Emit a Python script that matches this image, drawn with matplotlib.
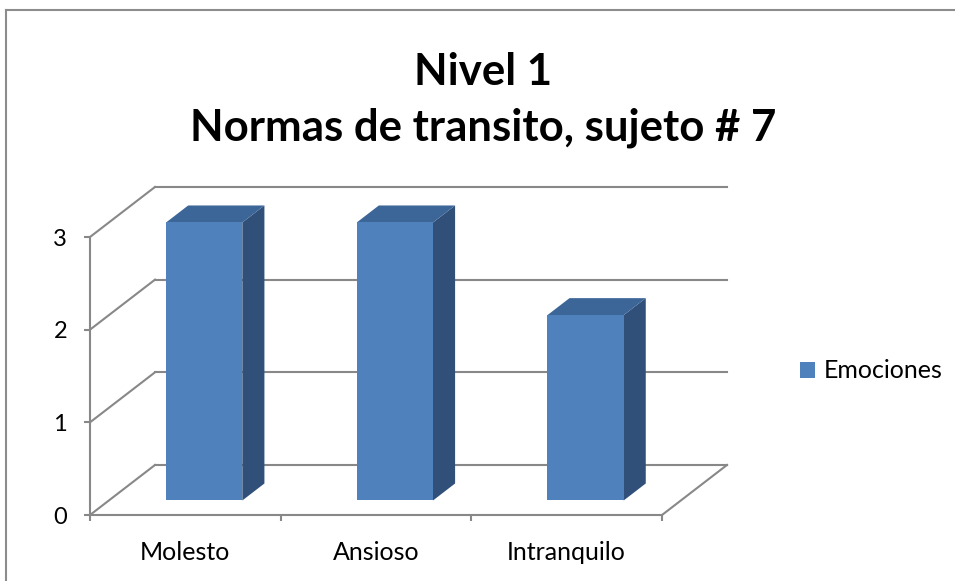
import matplotlib
matplotlib.use('Agg')
import matplotlib.pyplot as plt
from matplotlib.patches import Polygon, Rectangle, Patch
from matplotlib.lines import Line2D

categories = ['Molesto', 'Ansioso', 'Intranquilo']
values = [3, 3, 2]
series_name = 'Emociones'
yticks = [0, 1, 2, 3]
title = 'Nivel 1\nNormas de transito, sujeto # 7'

W, H = 955, 581
FONT = 'Lato'
front_col = '#4F81BD'
top_col = '#3C6698'
side_col = '#30507A'
grid_col = '#888888'

fig = plt.figure(figsize=(W / 100, H / 100), dpi=100)
ax = fig.add_axes([90 / W, (H - 515) / H, 572 / W, 278 / H])
n = len(categories)
ax.set_xlim(0, n)
ax.set_ylim(0, max(yticks))

ddx, ddy = 0.341, 0.54      # depth of the 3D box in data units
f0, fd = 0.29, 0.34         # bar front position / bar depth as fraction
bw = 0.40                   # bar width

# walls / gridlines
for v in yticks:
    ax.add_line(Line2D([ddx, n + ddx], [v + ddy, v + ddy], color=grid_col, lw=1.5, clip_on=False, zorder=1))
    ax.add_line(Line2D([0, ddx], [v, v + ddy], color=grid_col, lw=1.5, clip_on=False, zorder=1))
ax.add_line(Line2D([n, n + ddx], [0, ddy], color=grid_col, lw=1.5, clip_on=False, zorder=1))

# bars
for i, v in enumerate(values):
    x0 = i + 0.5 - bw / 2 + f0 * ddx
    y0 = f0 * ddy
    ex, ey = fd * ddx, fd * ddy
    ax.add_patch(Polygon([(x0 + bw, y0), (x0 + bw + ex, y0 + ey), (x0 + bw + ex, y0 + v + ey), (x0 + bw, y0 + v)],
                         closed=True, facecolor=side_col, edgecolor='none', clip_on=False, zorder=3))
    ax.add_patch(Polygon([(x0, y0 + v), (x0 + bw, y0 + v), (x0 + bw + ex, y0 + v + ey), (x0 + ex, y0 + v + ey)],
                         closed=True, facecolor=top_col, edgecolor='none', clip_on=False, zorder=3))
    ax.add_patch(Rectangle((x0, y0), bw, v, facecolor=front_col, edgecolor='none', clip_on=False, zorder=4))

# axes
for s in ['top', 'right']:
    ax.spines[s].set_visible(False)
for s in ['left', 'bottom']:
    ax.spines[s].set_color(grid_col)
    ax.spines[s].set_linewidth(1.5)
    ax.spines[s].set_zorder(2)
ax.set_facecolor('none')
ax.set_yticks(yticks)
ax.set_yticklabels([str(t) for t in yticks], fontsize=17, family=FONT)
ax.tick_params(axis='y', direction='out', length=4.5, width=1.5, color=grid_col, pad=12)
ax.set_xticks(range(n + 1))
ax.set_xticklabels([])
ax.tick_params(axis='x', which='major', direction='out', length=4.5, width=1.5, color=grid_col)
ax.set_xticks([i + 0.5 for i in range(n)], minor=True)
ax.set_xticklabels(categories, minor=True, fontsize=18, family=FONT)
ax.tick_params(axis='x', which='minor', length=0, pad=19)

# title
fig.text(483 / W, 1 - 100 / H, title, ha='center', va='center', fontsize=31.5,
         fontweight='bold', family=FONT, linespacing=1.45)

# legend
fig.legend(handles=[Patch(facecolor=front_col, edgecolor='none', label=series_name)],
           loc='center left', bbox_to_anchor=(800 / W, 1 - 371 / H), frameon=False,
           prop={'family': FONT, 'size': 18}, handlelength=0.6, handleheight=0.6,
           handletextpad=0.35, borderpad=0, borderaxespad=0)

# chart border
fig.add_artist(Line2D([6 / W, 6 / W], [0, 1 - 10 / H], color='#8c8c8c', lw=1.5, transform=fig.transFigure))
fig.add_artist(Line2D([6 / W, 1], [1 - 10 / H, 1 - 10 / H], color='#8c8c8c', lw=1.5, transform=fig.transFigure))

fig.savefig('out.png', dpi=100)
